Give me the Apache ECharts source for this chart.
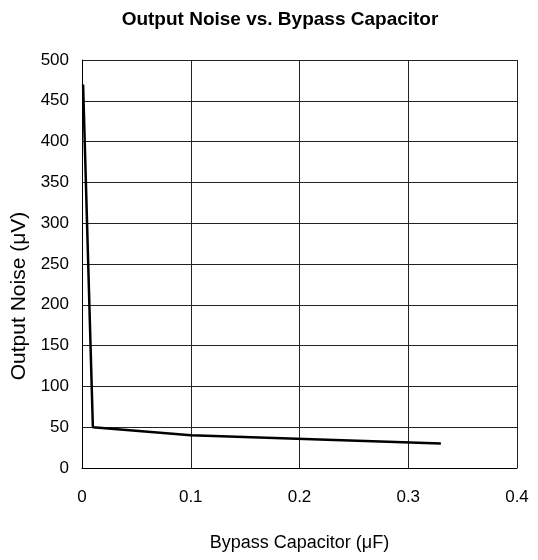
<!DOCTYPE html>
<html><head><meta charset="utf-8">
<script src="https://cdn.jsdelivr.net/npm/echarts@6/dist/echarts.min.js"></script>
<style>html,body{margin:0;padding:0;background:#fff}#c{width:538px;height:560px}</style>
</head><body><div id="c"></div>
<script>
const capacitance = [0.001, 0.01, 0.1, 0.33];
const noise = [470, 50, 40, 30];
const xTicks = [0, 0.1, 0.2, 0.3, 0.4];
const yTicks = [0, 50, 100, 150, 200, 250, 300, 350, 400, 450, 500];

const chart = echarts.init(document.getElementById('c'));
const font = 'Liberation Sans, Arial, sans-serif';
chart.setOption({
  animation: false,
  title: {
    text: 'Output Noise vs. Bypass Capacitor',
    left: 275, top: 5, textAlign: 'center',
    textStyle: {fontFamily: font, fontSize: 19, fontWeight: 'bold', color: '#000'}
  },
  grid: {left: 82, right: 21, top: 60, bottom: 92},
  xAxis: {
    type: 'value', min: 0, max: 0.4, interval: 0.1,
    name: 'Bypass Capacitor (μF)', nameLocation: 'middle', nameGap: 66,
    nameTextStyle: {fontFamily: font, fontSize: 18, color: '#000'},
    axisLine: {show: true, lineStyle: {color: '#000', width: 1}},
    axisTick: {show: false},
    axisLabel: {fontFamily: font, fontSize: 17, color: '#000', margin: 21,
      formatter: v => xTicks.includes(Math.round(v*10)/10) ? String(Math.round(v*10)/10) : ''},
    splitLine: {show: true, lineStyle: {color: '#222', width: 1}}
  },
  yAxis: {
    type: 'value', min: 0, max: 500, interval: 50,
    name: 'Output Noise (μV)', nameLocation: 'middle', nameGap: 46,
    nameTextStyle: {fontFamily: font, fontSize: 21, color: '#000', padding: [0, 64, 0, 0]},
    axisLine: {show: true, lineStyle: {color: '#000', width: 1}},
    axisTick: {show: false},
    axisLabel: {fontFamily: font, fontSize: 17, color: '#000', margin: 13,
      formatter: v => yTicks.includes(v) ? String(v) : ''},
    splitLine: {show: true, lineStyle: {color: '#222', width: 1}}
  },
  series: [{
    type: 'line',
    data: capacitance.map((x, i) => [x, noise[i]]),
    symbol: 'none',
    lineStyle: {color: '#000', width: 2.5},
    clip: false
  }]
});
</script></body></html>
